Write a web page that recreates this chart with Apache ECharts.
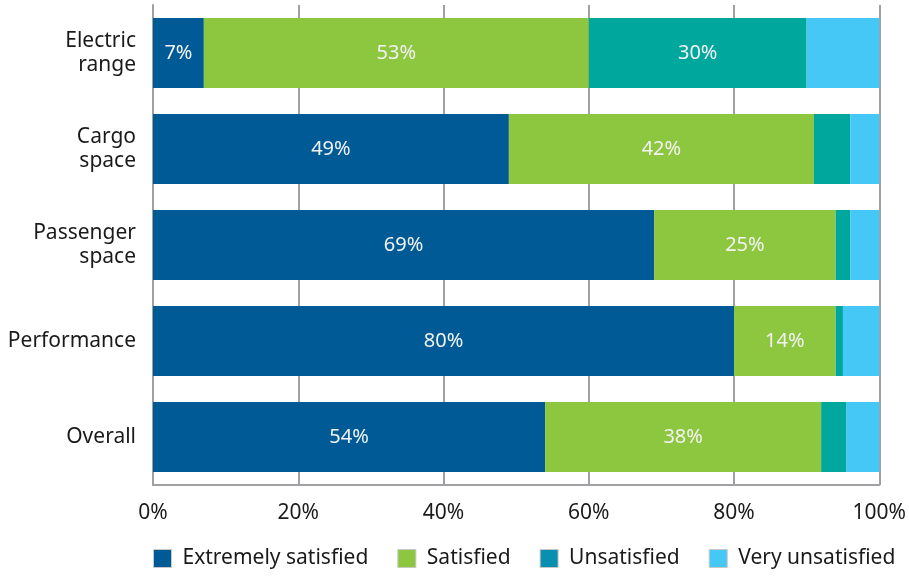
<!DOCTYPE html>
<html>
<head>
<meta charset="utf-8">
<script src="https://cdn.jsdelivr.net/npm/echarts@6/dist/echarts.min.js"></script>
<style>html,body{margin:0;padding:0;background:#fff}#c{width:909px;height:576px}</style>
</head>
<body>
<div id="c"></div>
<script>
const categories = ['Electric\nrange', 'Cargo\nspace', 'Passenger\nspace', 'Performance', 'Overall'];
const seriesNames = ['Extremely satisfied', 'Satisfied', 'Unsatisfied', 'Very unsatisfied'];
const extremelySatisfied = [7, 49, 69, 80, 54];
const satisfied = [53, 42, 25, 14, 38];
const unsatisfied = [30, 5, 2, 1, 3.5];
const veryUnsatisfied = [10, 4, 4, 5, 4.5];
const xTicks = [0, 20, 40, 60, 80, 100];

const colors = ['#005A96', '#8DC63F', '#00A79D', '#45C8F5'];
const legendColors = ['#005A96', '#8DC63F', '#0A8FB0', '#45C8F5'];
const FONT = 'Noto Sans';

const chart = echarts.init(document.getElementById('c'));
const values = [extremelySatisfied, satisfied, unsatisfied, veryUnsatisfied];
const series = values.map((d, i) => ({
  name: seriesNames[i],
  type: 'bar',
  stack: 'total',
  data: d,
  barWidth: 70,
  itemStyle: { color: colors[i] },
  label: {
    show: i < 3,
    position: 'inside',
    color: '#F2F2F2',
    fontSize: 20,
    fontFamily: FONT,
    formatter: p => (p.value >= 7 ? p.value + '%' : '')
  },
  emphasis: { disabled: true }
}));

chart.setOption({
  animation: false,
  grid: { left: 153, right: 29, top: 5, bottom: 91, containLabel: false },
  legend: {
    top: 548,
    left: 153,
    padding: 0,
    itemWidth: 18,
    itemHeight: 18,
    itemGap: 29,
    icon: 'rect',
    textStyle: { fontSize: 21, fontFamily: FONT, color: '#1a1a1a', padding: [0, 0, 0, 6] },
    data: seriesNames.map((n, i) => ({
      name: n,
      itemStyle: { color: legendColors[i], borderColor: '#c8c8c8', borderWidth: 1 }
    }))
  },
  xAxis: {
    type: 'value',
    min: 0,
    max: 100,
    interval: 20,
    axisLine: { show: true, lineStyle: { color: '#A0A0A4', width: 2 } },
    axisTick: { show: false },
    splitLine: { show: true, lineStyle: { color: '#A0A0A4', width: 2 } },
    axisLabel: {
      margin: 18,
      fontSize: 21,
      fontFamily: FONT,
      color: '#1a1a1a',
      formatter: v => (xTicks.includes(v) ? v + '%' : '')
    }
  },
  yAxis: {
    type: 'category',
    inverse: true,
    data: categories,
    axisLine: { show: true, lineStyle: { color: '#A0A0A4', width: 2 } },
    axisTick: { show: false },
    axisLabel: {
      margin: 17,
      fontSize: 21,
      lineHeight: 24,
      fontFamily: FONT,
      color: '#1a1a1a',
      align: 'right'
    }
  },
  series: series
});
</script>
</body>
</html>
